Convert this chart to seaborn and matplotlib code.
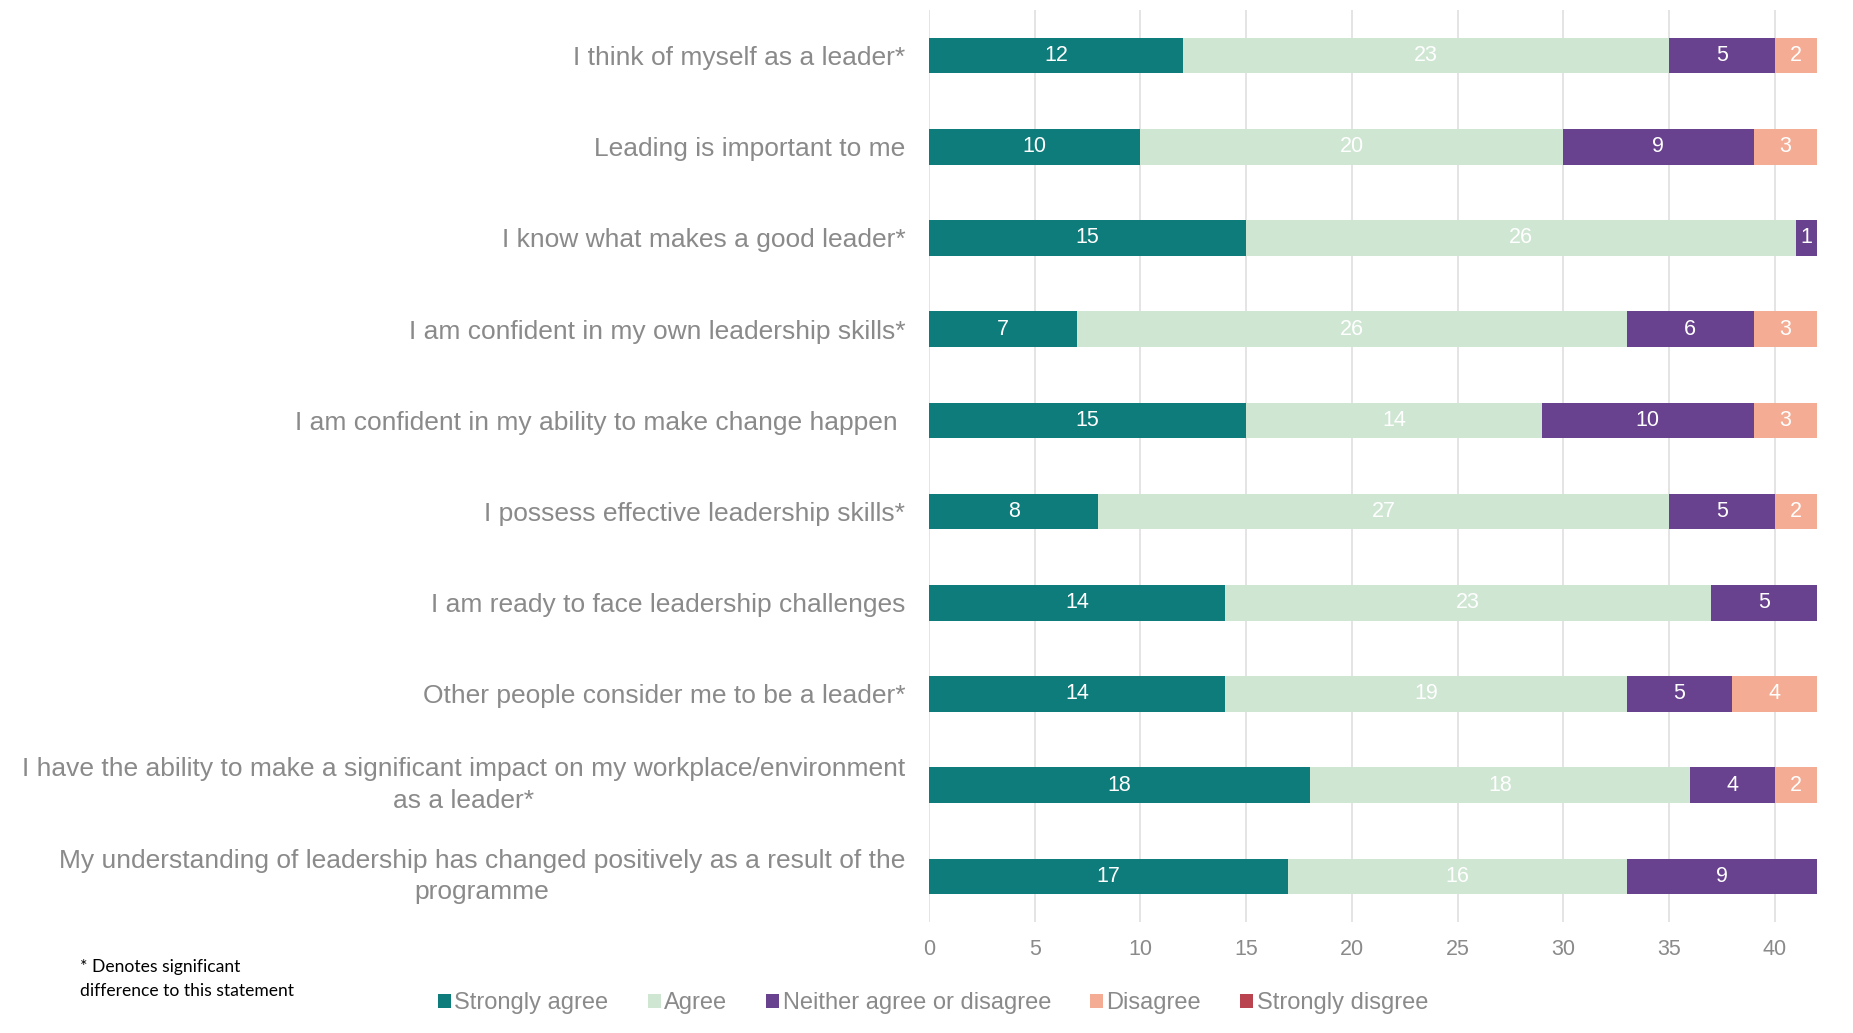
import numpy as np
import matplotlib
matplotlib.use("Agg")
import matplotlib.pyplot as plt
import seaborn as sns
from matplotlib.patches import Patch

# Survey statements, top to bottom
statements = [
    "I think of myself as a leader*",
    "Leading is important to me",
    "I know what makes a good leader*",
    "I am confident in my own leadership skills*",
    "I am confident in my ability to make change happen ",
    "I possess effective leadership skills*",
    "I am ready to face leadership challenges",
    "Other people consider me to be a leader*",
    "I have the ability to make a significant impact on my workplace/environment\nas a leader*",
    "My understanding of leadership has changed positively as a result of the\nprogramme",
]

# Number of respondents per answer
strongly_agree = [12, 10, 15, 7, 15, 8, 14, 14, 18, 17]
agree = [23, 20, 26, 26, 14, 27, 23, 19, 18, 16]
neither = [5, 9, 1, 6, 10, 5, 5, 5, 4, 9]
disagree = [2, 3, 0, 3, 3, 2, 0, 4, 2, 0]
strongly_disagree = [0, 0, 0, 0, 0, 0, 0, 0, 0, 0]

responses = ["Strongly agree", "Agree", "Neither agree or disagree",
             "Disagree", "Strongly disgree"]
series = [strongly_agree, agree, neither, disagree, strongly_disagree]
colors = ["#0E7C7B", "#CFE6D3", "#68418F", "#F4AD94", "#B9434F"]

x_ticks = [0, 5, 10, 15, 20, 25, 30, 35, 40]

sns.set_theme(style="white")
plt.rcParams["font.family"] = ["Liberation Sans", "DejaVu Sans"]

TEXT_GREY = "#8a8a8a"

W, H = 1853, 1033
fig = plt.figure(figsize=(W / 100, H / 100), dpi=100)
ax = fig.add_axes([929 / W, 1 - 922 / H, 888 / W, 912 / H])

left = np.zeros(len(statements))
for name, vals, col in zip(responses, series, colors):
    vals = np.asarray(vals, dtype=float)
    sns.barplot(x=vals, y=statements, order=statements, orient="h",
                color=col, saturation=1, width=0.39, left=left,
                errorbar=None, linewidth=0, ax=ax)
    bars = ax.containers[-1]
    ax.bar_label(bars, labels=[f"{int(v)}" if v > 0 else "" for v in vals],
                 label_type="center", color="white", fontsize=15.5)
    left = left + vals

ax.set_xlim(0, 42)
ax.set_ylim(len(statements) - 0.5, -0.5)
ax.set_xticks(x_ticks)
ax.set_xlabel("")
ax.set_ylabel("")
ax.xaxis.grid(True, color="#e2e2e2", linewidth=1.3)
ax.yaxis.grid(False)
ax.set_axisbelow(True)
for s in ax.spines.values():
    s.set_visible(False)

ax.tick_params(axis="x", length=0, pad=12, labelsize=15.5, labelcolor=TEXT_GREY)
ax.tick_params(axis="y", length=0, pad=17, labelsize=19, labelcolor=TEXT_GREY)
for lab in ax.get_yticklabels():
    if "\n" in lab.get_text():
        lab.set_multialignment("center")
        lab.set_linespacing(1.4)
        lab.set_verticalalignment("center")

handles = [Patch(facecolor=c, edgecolor="none", label=r) for r, c in zip(responses, colors)]
fig.legend(handles=handles, loc="center", bbox_to_anchor=(933 / W, 1 - 1003 / H),
           ncol=5, frameon=False, fontsize=17, handlelength=0.55, handleheight=0.55,
           handletextpad=0.15, columnspacing=1.65, labelcolor=TEXT_GREY)

fig.text(80 / W, 1 - 979 / H, "* Denotes significant\ndifference to this statement",
         ha="left", va="center", fontsize=12.6, color="black",
         family=["Lato", "DejaVu Sans"], linespacing=1.55)

fig.savefig("out.png", dpi=100, facecolor="white")
